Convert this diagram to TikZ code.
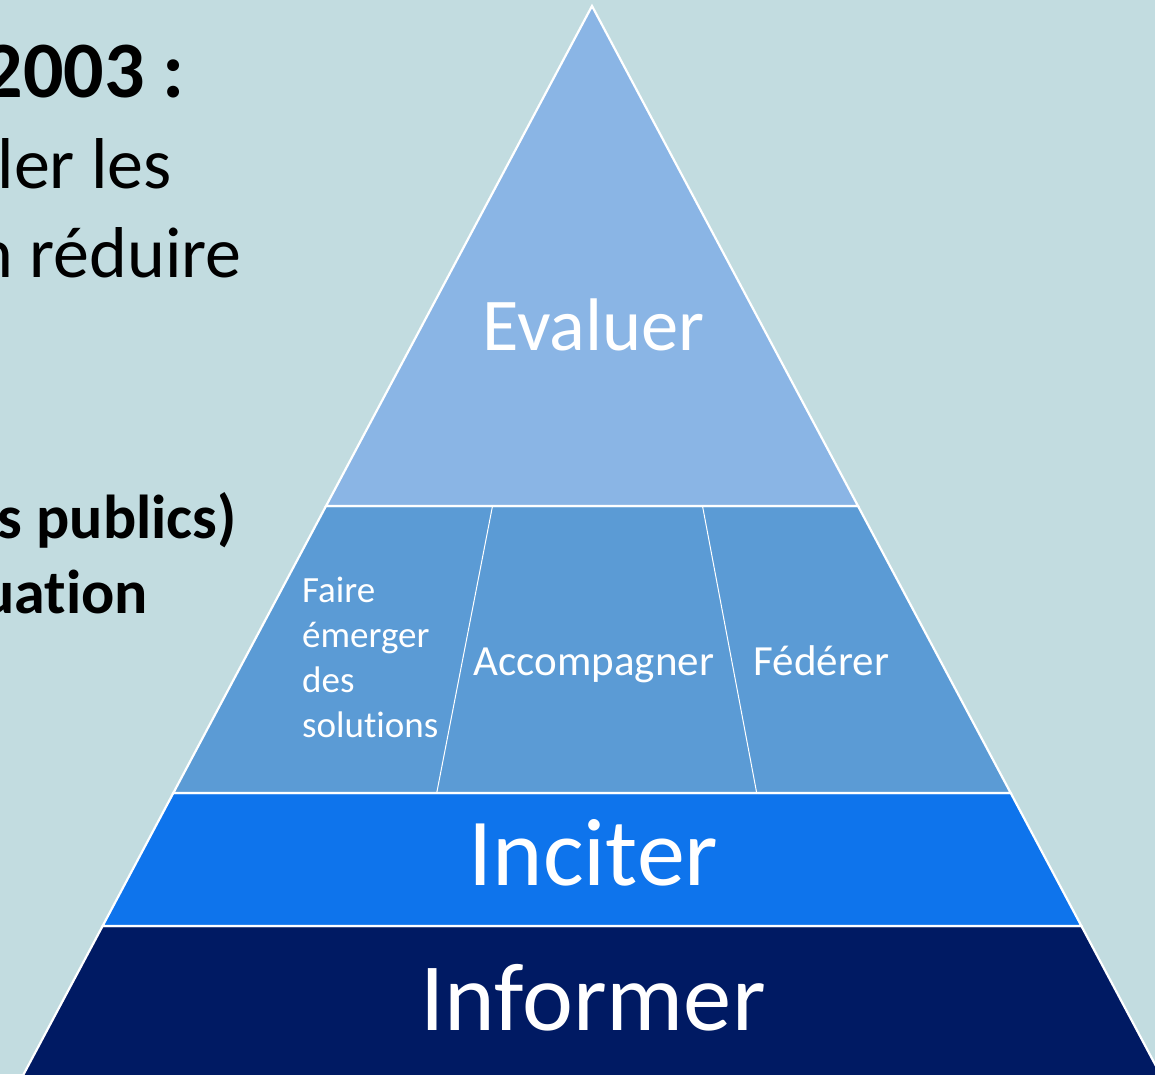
\documentclass[tikz,border=0pt]{standalone}
\usepackage{fontspec}
\setmainfont{Carlito}[Ligatures=NoCommon]
\usetikzlibrary{calc}
\definecolor{bgc}{HTML}{C2DCE0}
\definecolor{evalc}{HTML}{8AB5E5}
\definecolor{midc}{HTML}{5B9BD5}
\definecolor{incc}{HTML}{0E74EC}
\definecolor{infc}{HTML}{001A63}
\tikzset{
  layer/.style={draw=white, line width=2.2pt, line join=miter},
  divider/.style={draw=white, line width=1pt},
  bigtxt/.style={text=white, inner sep=0pt, anchor=base},
  midtxt/.style={text=white, inner sep=0pt, anchor=base, font=\fontsize{43}{52}\selectfont},
  sidetxt/.style={text=black, inner sep=0pt, anchor=base east},
}
\begin{document}
\begin{tikzpicture}[x=1pt,y=-1pt]
\useasboundingbox (0,0) rectangle (1155,1074);
\fill[bgc] (0,0) rectangle (1155,1074);
\begin{scope}
\clip (0,0) rectangle (1155,1074);
% pyramid corners
\coordinate (apex) at (592,6);
\coordinate (l1) at (326,506);  \coordinate (r1) at (858,506);
\coordinate (l2) at (173.3,793);  \coordinate (r2) at (1010.7,793);
\coordinate (l3) at (102.6,926);  \coordinate (r3) at (1081.4,926);
\coordinate (l4) at (19.5,1082);  \coordinate (r4) at (1164.5,1082);
% layers
\filldraw[layer, fill=infc] (l3) -- (r3) -- (r4) -- (l4) -- cycle;
\filldraw[layer, fill=incc] (l2) -- (r2) -- (r3) -- (l3) -- cycle;
\filldraw[layer, fill=midc] (l1) -- (r1) -- (r2) -- (l2) -- cycle;
\filldraw[layer, fill=evalc] (apex) -- (r1) -- (l1) -- cycle;
% dividers
\coordinate (d1t) at (492.5,506); \coordinate (d1b) at (436.7,793);
\coordinate (d2t) at (702.5,506); \coordinate (d2b) at (756.7,793);
\draw[divider] (d1t) -- (d1b);
\draw[divider] (d2t) -- (d2b);
% labels
\node[bigtxt, font=\fontsize{74.5}{89}\selectfont] (evaluer) at (593.5,350) {Evaluer};
\node[bigtxt, font=\fontsize{96}{115}\selectfont] (inciter) at (593.5,885) {Inciter};
\node[bigtxt, font=\fontsize{96.5}{116}\selectfont] (informer) at (593,1030) {Informer};
\node[midtxt] (accomp) at (594,675) {Accompagner};
\node[midtxt] (federer) at (821.5,675) {Fédérer};
\node[text=white, inner sep=0pt, anchor=base west, align=left,
      font=\fontsize{37}{44.7}\selectfont] (faire) at (302,737)
      {Faire\\émerger\\des\\solutions};
% side text (cut by the left edge)
\node[sidetxt, font=\bfseries\fontsize{80}{96}\selectfont] (t1) at (185,97) {2003 :};
\node[sidetxt, font=\fontsize{72}{86}\selectfont] (t2) at (172,188) {ler les};
\node[sidetxt, font=\fontsize{72}{86}\selectfont] (t3) at (242,277) {n réduire};
\node[sidetxt, font=\bfseries\fontsize{62}{74}\selectfont] (t4) at (237,538) {s publics)};
\node[sidetxt, font=\bfseries\fontsize{62}{74}\selectfont] (t5) at (148,613) {uation};
\end{scope}
\end{tikzpicture}
\end{document}
